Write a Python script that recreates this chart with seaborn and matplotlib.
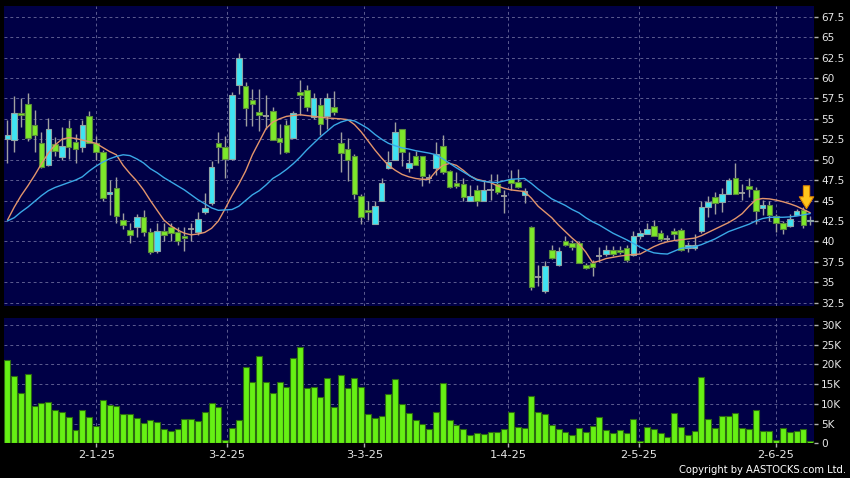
import numpy as np
import pandas as pd
import seaborn as sns
import matplotlib
matplotlib.use('Agg')
import matplotlib.pyplot as plt

# daily candles, Dec-2024 .. Jun-2025
opens = [52.5, 52.4, 55.7, 56.8, 54.3, 52.1, 49.35, 51.9, 50.3, 53.9,
         52.2, 51.5, 55.4, 52.0, 50.9, 45.8, 46.5, 42.6, 41.4, 41.7,
         43.0, 41.2, 38.8, 41.3, 41.8, 41.1, 40.7, 41.5, 41.1, 43.55,
         44.7, 52.0, 51.5, 50.1, 59.1, 59.05, 57.3, 55.8, 55.35, 56.0,
         52.7, 54.25, 52.7, 58.3, 58.5, 55.2, 56.7, 55.35, 56.4, 52.1,
         51.3, 50.5, 45.6, 43.8, 42.1, 45.0, 48.95, 49.96, 53.7, 48.95,
         50.5, 50.5, 47.7, 49.0, 51.7, 48.6, 47.2, 47.0, 45.0, 46.3,
         45.0, 46.3, 47.0, 45.5, 47.6, 47.3, 45.7, 41.7, 35.6, 33.9,
         39.0, 37.1, 40.0, 39.8, 39.8, 37.1, 37.4, 38.2, 38.4, 39.0,
         39.0, 39.15, 38.3, 40.7, 40.9, 41.9, 41.0, 40.3, 41.3, 41.4,
         39.15, 39.15, 41.3, 44.2, 45.4, 44.85, 45.8, 47.7, 45.9, 46.8,
         46.3, 44.1, 44.4, 43.1, 42.2, 41.9, 43.2, 43.9, 42.5]
highs = [54.9, 57.8, 57.6, 58.1, 56.1, 53.4, 55.1, 52.8, 54.0, 54.9,
         53.2, 54.8, 56.0, 52.9, 51.2, 47.5, 47.9, 43.5, 42.2, 43.4,
         43.9, 41.6, 42.2, 42.3, 42.2, 41.7, 41.8, 42.2, 43.6, 45.9,
         49.8, 53.4, 52.9, 58.3, 63.0, 59.5, 58.7, 58.7, 57.9, 56.5,
         54.4, 54.8, 56.0, 59.7, 59.2, 58.1, 57.6, 58.1, 58.4, 53.4,
         52.7, 50.7, 45.8, 44.9, 44.9, 47.8, 51.1, 54.65, 53.7, 51.0,
         51.1, 50.5, 48.2, 52.2, 53.0, 48.7, 48.5, 47.8, 46.9, 46.9,
         47.4, 48.2, 48.2, 46.3, 48.7, 48.9, 46.5, 41.9, 37.1, 37.6,
         39.6, 39.3, 40.7, 40.2, 40.0, 37.4, 37.7, 39.3, 39.5, 39.4,
         39.4, 39.6, 41.3, 41.4, 42.3, 42.6, 41.4, 40.8, 41.6, 41.6,
         39.9, 40.9, 45.0, 45.5, 46.0, 46.5, 47.8, 49.6, 47.0, 47.7,
         46.7, 45.1, 45.0, 43.3, 42.5, 43.3, 44.0, 44.2, 43.1]
lows = [49.6, 51.0, 54.0, 52.3, 51.0, 49.0, 49.2, 50.4, 50.0, 50.1,
        49.6, 51.0, 52.1, 50.0, 45.0, 43.2, 42.2, 41.5, 39.8, 40.5,
        40.7, 38.5, 38.6, 40.1, 40.0, 39.5, 38.8, 40.1, 40.8, 43.4,
        44.5, 49.6, 47.8, 50.0, 58.0, 54.1, 54.1, 53.5, 53.8, 52.4,
        50.7, 50.8, 52.7, 55.5, 56.0, 55.0, 53.0, 53.8, 55.5, 48.5,
        47.4, 45.15, 42.1, 42.6, 42.1, 45.0, 48.8, 49.96, 49.2, 48.5,
        49.3, 46.8, 47.1, 48.1, 48.3, 46.5, 46.5, 44.9, 44.9, 44.3,
        45.0, 45.1, 45.8, 43.5, 46.3, 46.5, 44.7, 34.1, 34.5, 33.7,
        37.9, 37.0, 39.4, 38.9, 37.3, 36.6, 35.8, 37.5, 38.2, 38.2,
        38.5, 37.5, 38.2, 40.3, 40.9, 40.7, 40.0, 40.0, 40.2, 38.8,
        38.7, 39.0, 41.0, 43.0, 43.3, 43.6, 45.8, 45.8, 45.1, 45.4,
        42.1, 43.2, 42.5, 41.1, 40.9, 41.8, 43.2, 41.6, 42.0]
closes = [53.0, 55.7, 55.5, 52.6, 53.0, 49.1, 53.7, 51.1, 51.7, 51.5,
          51.3, 54.3, 52.1, 50.9, 45.3, 46.0, 43.1, 42.0, 40.8, 43.0,
          41.2, 38.7, 41.3, 40.8, 41.0, 40.0, 40.4, 41.5, 42.7, 44.05,
          49.1, 51.5, 50.1, 57.9, 62.5, 56.3, 56.8, 55.5, 55.35, 52.4,
          52.2, 51.0, 55.7, 57.9, 56.4, 57.6, 54.4, 57.5, 55.8, 50.8,
          49.9, 45.8, 43.0, 43.6, 44.3, 47.2, 49.7, 53.35, 50.9, 49.55,
          49.3, 48.0, 47.7, 50.7, 48.5, 46.7, 46.8, 45.4, 45.6, 45.0,
          46.3, 46.3, 46.1, 45.5, 47.1, 46.6, 46.2, 34.4, 35.6, 37.0,
          38.0, 38.85, 39.5, 39.3, 37.3, 36.8, 36.9, 38.2, 38.9, 38.5,
          38.65, 37.7, 40.6, 41.0, 41.55, 40.7, 40.3, 40.3, 40.9, 39.0,
          39.5, 39.6, 44.2, 44.8, 44.7, 45.75, 47.5, 45.8, 45.9, 46.4,
          43.75, 44.4, 43.2, 42.3, 41.5, 42.75, 43.7, 42.0, 42.65]
# volume in thousands of shares
volumes = [21.1, 17.1, 12.7, 17.5, 9.55, 10.2, 10.5, 8.45, 8.0, 6.6,
           3.3, 8.45, 6.6, 4.4, 11.1, 9.8, 9.5, 7.35, 7.35, 6.4,
           5.15, 6.0, 5.3, 3.7, 3.2, 3.55, 6.1, 6.2, 5.6, 8.0,
           10.2, 9.2, 0.85, 4.0, 5.9, 19.4, 15.6, 22.1, 15.55, 12.7,
           15.6, 14.3, 21.6, 24.3, 14.0, 14.3, 11.7, 16.65, 9.3, 17.3,
           14.1, 16.6, 14.3, 7.4, 6.5, 6.85, 12.5, 16.2, 10.0, 7.8,
           5.9, 4.8, 3.6, 8.0, 15.4, 5.9, 4.65, 3.7, 2.2, 2.6,
           2.45, 2.95, 2.9, 3.55, 7.95, 4.15, 3.9, 12.1, 7.95, 7.45,
           4.65, 3.7, 2.9, 2.1, 3.8, 2.8, 4.5, 6.7, 3.4, 2.5,
           3.4, 2.5, 6.1, 0.6, 4.2, 3.6, 2.7, 1.6, 7.8, 4.05,
           2.1, 3.2, 16.7, 6.2, 4.0, 7.0, 6.9, 7.6, 4.0, 3.7,
           8.5, 3.1, 3.1, 0.75, 3.9, 2.8, 3.05, 3.55, 0.7]
# moving averages as drawn (orange = short, blue = long)
ma_short = [42.6, 44.2, 45.6, 46.8, 48.1, 49.5, 50.8, 51.8, 52.5, 52.7,
            52.6, 52.4, 52.2, 52.0, 51.5, 51.0, 50.6, 49.3, 48.3, 47.4,
            46.3, 45.0, 43.8, 42.6, 41.9, 41.4, 41.0, 40.8, 40.9, 41.1,
            41.6, 42.5, 44.0, 45.6, 47.0, 48.6, 50.6, 52.2, 53.8, 54.6,
            55.0, 55.3, 55.4, 55.5, 55.4, 55.3, 55.2, 55.1, 55.05, 55.0,
            54.9, 54.3, 53.4, 52.3, 51.2, 50.2, 49.3, 48.7, 48.2, 47.9,
            47.7, 47.6, 47.6, 48.6, 49.3, 49.55, 49.3, 48.7, 48.0, 47.6,
            47.4, 47.2, 46.8, 46.5, 46.3, 46.2, 46.1, 45.3, 44.3, 43.6,
            42.9, 42.0, 41.2, 40.4, 39.7, 38.7, 37.4, 37.6, 37.9, 38.05,
            38.2, 38.3, 38.4, 38.45, 38.9, 39.35, 39.7, 39.95, 40.1, 40.2,
            40.3, 40.4, 40.7, 41.1, 41.5, 41.9, 42.3, 42.8, 43.4, 44.3,
            45.1, 45.25, 45.2, 45.05, 44.85, 44.6, 44.3, 43.9, 43.5]
ma_long = [42.5, 42.9, 43.6, 44.2, 44.9, 45.6, 46.2, 46.6, 46.9, 47.2,
           47.5, 47.9, 48.6, 49.2, 49.7, 50.1, 50.4, 50.6, 50.5, 50.1,
           49.6, 48.9, 48.4, 47.8, 47.3, 46.8, 46.3, 45.7, 45.1, 44.6,
           44.1, 43.8, 43.85, 43.9, 44.3, 45.0, 45.7, 46.2, 46.9, 47.7,
           48.2, 48.8, 49.5, 50.3, 51.2, 52.0, 52.8, 53.5, 54.2, 54.6,
           54.85, 54.75, 54.3, 53.8, 53.1, 52.5, 52.0, 51.7, 51.45, 51.3,
           51.1, 50.95, 50.8, 50.6, 50.1, 49.55, 49.0, 48.5, 48.0, 47.5,
           47.35, 47.25, 47.2, 47.4, 47.6, 47.65, 47.7, 47.1, 46.4, 45.8,
           45.2, 44.8, 44.4, 43.9, 43.5, 42.9, 42.4, 42.0, 41.5, 41.0,
           40.6, 40.2, 39.75, 39.3, 38.9, 38.6, 38.5, 38.45, 38.8, 39.15,
           39.25, 39.35, 39.6, 39.95, 40.3, 40.75, 41.2, 41.5, 41.8, 42.1,
           42.5, 42.8, 42.95, 42.95, 42.95, 43.0, 43.1, 43.25, 43.4]

date_labels = ['2-1-25', '3-2-25', '3-3-25', '1-4-25', '2-5-25', '2-6-25']
date_pos = [13.05, 32.2, 52.45, 73.6, 92.8, 112.96]
price_ticks = [32.5, 35, 37.5, 40, 42.5, 45, 47.5, 50, 52.5, 55, 57.5, 60, 62.5, 65, 67.5]
vol_ticks = [0, 5, 10, 15, 20, 25, 30]

df = pd.DataFrame({'open': opens, 'high': highs, 'low': lows, 'close': closes,
                   'volume': volumes, 'ma_short': ma_short, 'ma_long': ma_long})
df['idx'] = np.arange(len(df))

sns.set_style('dark')
plt.rcParams['font.family'] = ['DejaVu Sans']

BG = '#000046'
GRID = '#5c5c90'

fig = plt.figure(figsize=(8.5, 4.78), dpi=100, facecolor='black')
ax = fig.add_axes([4 / 850, 1 - 306 / 478, 810 / 850, 300 / 478])
axv = fig.add_axes([4 / 850, 1 - 443.3 / 478, 810 / 850, 125 / 478])

for a in (ax, axv):
    a.set_facecolor(BG)
    for s in a.spines.values():
        s.set_visible(False)
    a.grid(True, color=GRID, ls=(0, (3, 3)), lw=0.7)
    a.set_axisbelow(True)

# candles
up = df.close > df.open
down = df.close < df.open
flat = df.close == df.open
ax.vlines(df.idx, df.low, df.high, color='#a0a0a0', lw=1, zorder=2)
ax.bar(df.idx[up], (df.close - df.open)[up], bottom=df.open[up], width=0.82,
       color='#3fe4f2', edgecolor='#8fa6a6', lw=0.8, zorder=3)
ax.bar(df.idx[down], (df.open - df.close)[down], bottom=df.close[down], width=0.82,
       color='#7de82b', edgecolor='#5a8a3c', lw=0.8, zorder=3)
ax.hlines(df.close[flat], df.idx[flat] - 0.45, df.idx[flat] + 0.45, color='#a0a0a0', lw=1.3, zorder=3)

sns.lineplot(data=df, x='idx', y='ma_short', ax=ax, color='#e3956c', lw=1, zorder=4)
sns.lineplot(data=df, x='idx', y='ma_long', ax=ax, color='#3aa8e6', lw=1, zorder=4)

# marker above the latest signal candle
last = len(df) - 2
ax.annotate('', xy=(last + 0.45, df.high[last] - 0.2), xytext=(last + 0.45, df.high[last] + 2.6),
            arrowprops=dict(arrowstyle='simple,head_width=1.15,head_length=0.95,tail_width=0.5',
                            mutation_scale=9, fc='#ffc51c', ec='#e08600', lw=0.8,
                            shrinkA=0, shrinkB=0), zorder=6)

ax.set_xlim(-0.51, 118.55)
ax.set_ylim(32.09, 68.81)
ax.set_yticks(price_ticks)
ax.set_yticklabels([f'{t:g}' for t in price_ticks])
ax.set_xticks(date_pos)
ax.set_xticklabels([])
ax.tick_params(axis='x', length=0)
ax.set_xlabel('')
ax.set_ylabel('')

# volume
sns.barplot(data=df, x='idx', y='volume', ax=axv, native_scale=True, errorbar=None,
            color='#66f014', saturation=1, edgecolor='#2c6a12', linewidth=0.8, width=0.88)
axv.set_xlim(-0.51, 118.55)
axv.set_ylim(0, 31.7)
axv.set_yticks(vol_ticks)
axv.set_yticklabels(['0'] + [f'{t}K' for t in vol_ticks[1:]])
axv.set_xticks(date_pos)
axv.set_xticklabels(date_labels)
axv.set_xlabel('')
axv.set_ylabel('')

for a in (ax, axv):
    a.yaxis.tick_right()
    a.tick_params(axis='y', which='both', right=True, left=False, length=3, width=1,
                  color='#b0b0b0', labelcolor='#e6e6e6', labelsize=7.6, pad=2)
axv.tick_params(axis='x', bottom=True, length=3, width=1, color='#b0b0b0',
                labelcolor='#e6e6e6', labelsize=8.2, pad=2)

fig.text(0.995, 0.017, 'Copyright by AASTOCKS.com Ltd.', ha='right', va='center',
         color='white', fontsize=7.2)

fig.savefig('out.png', dpi=100, facecolor='black')
